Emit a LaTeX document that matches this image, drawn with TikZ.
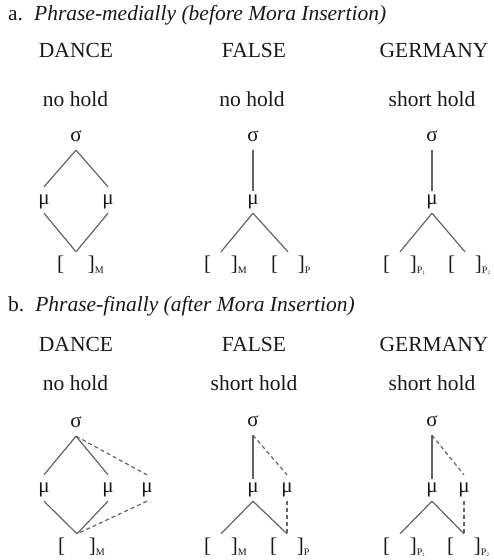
\documentclass[tikz,border=0pt]{standalone}
\usepackage{fontspec}
\setmainfont{Liberation Serif}
\definecolor{linegray}{RGB}{100,100,100}
\definecolor{txtcol}{RGB}{25,25,25}
\newcommand{\subM}{\rlap{\raisebox{-3pt}{\fontsize{10}{10}\selectfont M}}}
\newcommand{\subP}{\rlap{\raisebox{-3pt}{\fontsize{10}{10}\selectfont P}}}
\newcommand{\subPi}[1]{\rlap{\raisebox{-3pt}{\fontsize{10}{10}\selectfont P\raisebox{-1.5pt}{\fontsize{5}{5}\selectfont #1}}}}
\begin{document}
\begin{tikzpicture}[x=1pt,y=-1pt,
  every node/.style={text=txtcol},
  txt/.style={inner sep=0pt, anchor=base, font=\fontsize{21.5}{24}\selectfont},
  ttl/.style={inner sep=0pt, anchor=base west, font=\fontsize{21.5}{24}\selectfont},
  sym/.style={inner sep=0pt, font=\fontsize{21}{24}\selectfont, text height=9.5pt, text depth=0pt, minimum height=26pt},
  brk/.style={inner sep=0pt, font=\fontsize{21}{24}\selectfont, text height=14.3pt, text depth=4.2pt, minimum height=26pt},
  ln/.style={draw=linegray, line width=1.2pt},
  dl/.style={ln, dash pattern=on 4pt off 3pt},
  vl/.style={shorten >=-4pt}]
\useasboundingbox (0,0) rectangle (494,560);

% ---------- section a ----------
\node[ttl] (ta) at (8,20) {a.\hspace{11pt}\textit{Phrase-medially (before Mora Insertion)}};
\node[txt] (ha1) at (76,57.3) {DANCE};
\node[txt] (ha2) at (254,57.3) {FALSE};
\node[txt] (ha3) at (434,57.3) {GERMANY};
\node[txt] (da1) at (75.5,106) {no hold};
\node[txt] (da2) at (252,106) {no hold};
\node[txt] (da3) at (432,106) {short hold};

% DANCE a
\node[sym] (sa1) at (76,137) {σ};
\node[sym] (ma1l) at (44,200) {μ};
\node[sym] (ma1r) at (108,200) {μ};
\node[brk] (ba1) at (76,265) {[\hspace{24pt}]\subM};
\draw[ln] (sa1.south) -- (ma1l.north);
\draw[ln] (sa1.south) -- (ma1r.north);
\draw[ln] (ma1l.south) -- (ba1.north);
\draw[ln] (ma1r.south) -- (ba1.north);

% FALSE a
\node[sym] (sa2) at (253,137) {σ};
\node[sym] (ma2) at (253,200) {μ};
\node[brk] (ba2l) at (221,265) {[\hspace{20pt}]\subM};
\node[brk] (ba2r) at (288,265) {[\hspace{20pt}]\subP};
\draw[ln,vl] (sa2.south) -- (ma2.north);
\draw[ln] (ma2.south) -- (ba2l.north);
\draw[ln] (ma2.south) -- (ba2r.north);

% GERMANY a
\node[sym] (sa3) at (432,137) {σ};
\node[sym] (ma3) at (432,200) {μ};
\node[brk] (ba3l) at (400,265) {[\hspace{20pt}]\subPi{1}};
\node[brk] (ba3r) at (465,265) {[\hspace{20pt}]\subPi{2}};
\draw[ln,vl] (sa3.south) -- (ma3.north);
\draw[ln] (ma3.south) -- (ba3l.north);
\draw[ln] (ma3.south) -- (ba3r.north);

% ---------- section b ----------
\node[ttl] (tb) at (8,311) {b.\hspace{11pt}\textit{Phrase-finally (after Mora Insertion)}};
\node[txt] (hb1) at (76,351.7) {DANCE};
\node[txt] (hb2) at (254,351.7) {FALSE};
\node[txt] (hb3) at (434,351.7) {GERMANY};
\node[txt] (db1) at (75.5,390) {no hold};
\node[txt] (db2) at (254,390) {short hold};
\node[txt] (db3) at (432,390) {short hold};

% DANCE b
\node[sym] (sb1) at (76,423) {σ};
\node[sym] (mb1l) at (44,488) {μ};
\node[sym] (mb1m) at (108,488) {μ};
\node[sym] (mb1r) at (147,488) {μ};
\node[brk] (bb1) at (77,547) {[\hspace{24pt}]\subM};
\draw[ln] (sb1.south) -- (mb1l.north);
\draw[ln] (sb1.south) -- (mb1m.north);
\draw[dl] (sb1.south) -- (mb1r.north);
\draw[ln] (mb1l.south) -- (bb1.north);
\draw[ln] (mb1m.south) -- (bb1.north);
\draw[dl] (mb1r.south) -- (bb1.north);

% FALSE b
\node[sym] (sb2) at (253,422) {σ};
\node[sym] (mb2l) at (253,488) {μ};
\node[sym] (mb2r) at (287,488) {μ};
\node[brk] (bb2l) at (221,547) {[\hspace{20pt}]\subM};
\node[brk] (bb2r) at (287,547) {[\hspace{20pt}]\subP};
\draw[ln,vl] (sb2.south) -- (mb2l.north);
\draw[dl] (sb2.south) -- (mb2r.north);
\draw[ln] (mb2l.south) -- (bb2l.north);
\draw[ln] (mb2l.south) -- (bb2r.north);
\draw[dl] (mb2r.south) -- (bb2r.north);

% GERMANY b
\node[sym] (sb3) at (432,422) {σ};
\node[sym] (mb3l) at (432,488) {μ};
\node[sym] (mb3r) at (464,488) {μ};
\node[brk] (bb3l) at (400,547) {[\hspace{20pt}]\subPi{1}};
\node[brk] (bb3r) at (464,547) {[\hspace{20pt}]\subPi{2}};
\draw[ln,vl] (sb3.south) -- (mb3l.north);
\draw[dl] (sb3.south) -- (mb3r.north);
\draw[ln] (mb3l.south) -- (bb3l.north);
\draw[ln] (mb3l.south) -- (bb3r.north);
\draw[dl] (mb3r.south) -- (bb3r.north);
\end{tikzpicture}
\end{document}
